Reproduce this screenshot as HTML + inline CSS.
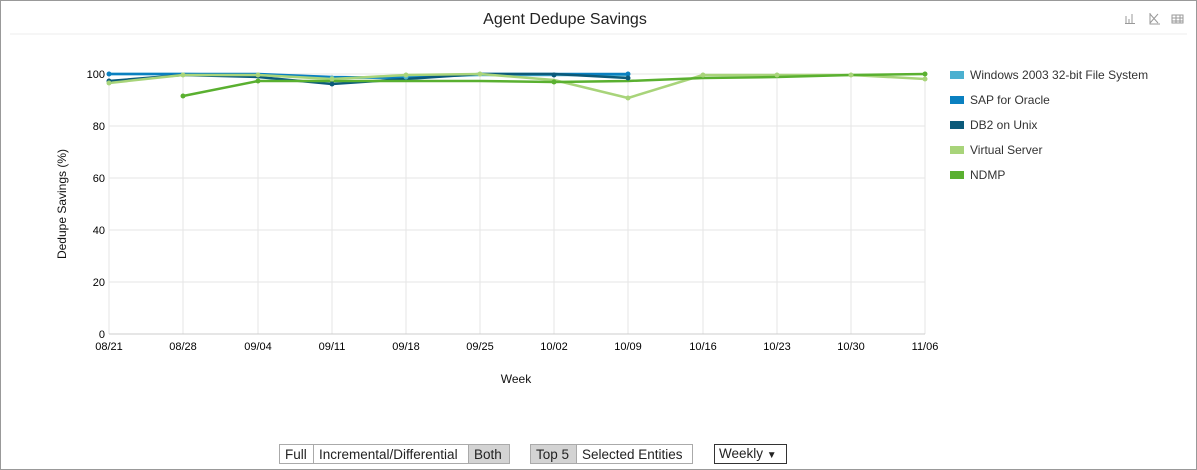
<!DOCTYPE html>
<html><head><meta charset="utf-8"><style>
body{margin:0;background:#fff;font-family:"Liberation Sans",sans-serif;}
.frame{position:absolute;left:0;top:0;width:1195px;height:468px;border:1px solid #999;}
.btn{position:absolute;top:444px;height:20px;border:1px solid #aaa;font-size:13.5px;line-height:19px;padding:0 5px;color:#222;box-sizing:border-box;background:#fff;white-space:nowrap;}
.on{background:#d3d3d3;}
</style></head><body>
<div class="frame"></div>
<svg width="1197" height="470" style="position:absolute;left:0;top:0" font-family="Liberation Sans, sans-serif">
<text x="565" y="24" font-size="16" text-anchor="middle" fill="#222">Agent Dedupe Savings</text>
<line x1="10" y1="34" x2="1187" y2="34" stroke="#eee"/>
<g stroke="#999" fill="none" stroke-width="1">
<path d="M1126 23V16M1129 23V19M1132 23V14M1125 23.5H1135"/>
<path d="M1150 14L1158 23M1150 23L1158 14M1150 13V24H1160"/>
<rect x="1172" y="15" width="11" height="8"/><path d="M1172 18H1183M1172 21H1183M1176 15V23M1180 15V23"/>
</g>
<g stroke="#e6e6e6">
<line x1="109" y1="74" x2="925" y2="74"/><line x1="109" y1="126" x2="925" y2="126"/><line x1="109" y1="178" x2="925" y2="178"/><line x1="109" y1="230" x2="925" y2="230"/><line x1="109" y1="282" x2="925" y2="282"/>
<line x1="109" y1="74" x2="109" y2="334"/><line x1="183" y1="74" x2="183" y2="334"/><line x1="258" y1="74" x2="258" y2="334"/><line x1="332" y1="74" x2="332" y2="334"/><line x1="406" y1="74" x2="406" y2="334"/><line x1="480" y1="74" x2="480" y2="334"/><line x1="554" y1="74" x2="554" y2="334"/><line x1="628" y1="74" x2="628" y2="334"/><line x1="703" y1="74" x2="703" y2="334"/><line x1="777" y1="74" x2="777" y2="334"/><line x1="851" y1="74" x2="851" y2="334"/><line x1="925" y1="74" x2="925" y2="334"/>
</g>
<line x1="109" y1="334" x2="925" y2="334" stroke="#ccc"/>
<g font-size="11" fill="#000" text-anchor="end">
<text x="105" y="78">100</text><text x="105" y="130">80</text><text x="105" y="182">60</text><text x="105" y="234">40</text><text x="105" y="286">20</text><text x="105" y="338">0</text>
</g>
<g font-size="11" fill="#000" text-anchor="middle">
<text x="109" y="350">08/21</text><text x="183" y="350">08/28</text><text x="258" y="350">09/04</text><text x="332" y="350">09/11</text><text x="406" y="350">09/18</text><text x="480" y="350">09/25</text><text x="554" y="350">10/02</text><text x="628" y="350">10/09</text><text x="703" y="350">10/16</text><text x="777" y="350">10/23</text><text x="851" y="350">10/30</text><text x="925" y="350">11/06</text>
</g>
<text x="516" y="383" font-size="12" text-anchor="middle" fill="#111">Week</text>
<text transform="translate(66,204) rotate(-90)" font-size="12" text-anchor="middle" fill="#111">Dedupe Savings (%)</text>
<g fill="none" stroke-width="2.5" stroke-linejoin="round">
<polyline stroke="#4bb0d0" points="109,74 183,74 258,75 332,78 406,77 480,75 554,75 628,75"/>
<polyline stroke="#0a80c0" points="109,74 183,74 258,74 332,77 406,78 480,74 554,74 628,74"/>
<polyline stroke="#0b5a7a" points="109,81 183,75 258,77 332,84 406,79 480,74 554,74 628,78"/>
<polyline stroke="#a8d47a" points="109,83 183,75 258,75 332,79 406,75 480,74 554,80 628,98 703,75 777,75 851,75 925,79"/>
<polyline stroke="#5ab030" points="183,96 258,81 332,81 406,81 480,81 554,82 628,81 703,78 777,77 851,75 925,74"/>
</g>
<g>
<g fill="#4bb0d0"><circle cx="332" cy="78" r="2.5"/><circle cx="406" cy="77" r="2.5"/></g>
<g fill="#0a80c0"><circle cx="109" cy="74" r="2.5"/><circle cx="628" cy="74" r="2.5"/></g>
<g fill="#0b5a7a"><circle cx="332" cy="84" r="2.5"/><circle cx="554" cy="75" r="2.5"/><circle cx="628" cy="78" r="2.5"/><circle cx="109" cy="81" r="2.5"/></g>
<g fill="#a8d47a"><circle cx="109" cy="83" r="2.5"/><circle cx="183" cy="75" r="2.5"/><circle cx="258" cy="75" r="2.5"/><circle cx="332" cy="79" r="2.5"/><circle cx="406" cy="75" r="2.5"/><circle cx="480" cy="74" r="2.5"/><circle cx="628" cy="98" r="2.5"/><circle cx="703" cy="75" r="2.5"/><circle cx="777" cy="75" r="2.5"/><circle cx="851" cy="75" r="2.5"/><circle cx="925" cy="79" r="2.5"/></g>
<g fill="#5ab030"><circle cx="183" cy="96" r="2.5"/><circle cx="258" cy="81" r="2.5"/><circle cx="554" cy="82" r="2.5"/><circle cx="925" cy="74" r="2.5"/></g>
</g>
<g font-size="12" fill="#333">
<rect x="950" y="71" width="14" height="8" fill="#4bb0d0"/><text x="970" y="79">Windows 2003 32-bit File System</text>
<rect x="950" y="96" width="14" height="8" fill="#0a80c0"/><text x="970" y="104">SAP for Oracle</text>
<rect x="950" y="121" width="14" height="8" fill="#0b5a7a"/><text x="970" y="129">DB2 on Unix</text>
<rect x="950" y="146" width="14" height="8" fill="#a8d47a"/><text x="970" y="154">Virtual Server</text>
<rect x="950" y="171" width="14" height="8" fill="#5ab030"/><text x="970" y="179">NDMP</text>
</g>
</svg>
<div class="btn" style="left:279px;width:35px">Full</div>
<div class="btn" style="left:313px;width:156px">Incremental/Differential</div>
<div class="btn on" style="left:468px;width:42px">Both</div>
<div class="btn on" style="left:530px;width:47px">Top 5</div>
<div class="btn" style="left:576px;width:117px">Selected Entities</div>
<div class="btn" style="left:714px;width:73px;border-color:#333;padding:0 4px;line-height:18px">Weekly <span style="font-size:10px">&#9660;</span></div>
</body></html>
